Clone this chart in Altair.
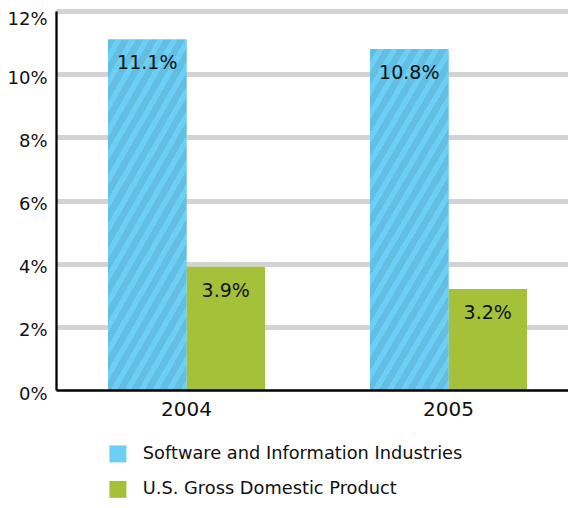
import altair as alt
import pandas as pd

# ---- data ----
years = ["2004", "2005"]
series_names = ["Software and Information Industries", "U.S. Gross Domestic Product"]
software_growth = [11.1, 10.8]
gdp_growth = [3.9, 3.2]
y_ticks = [0, 2, 4, 6, 8, 10, 12]

# ---- styles ----
BLUE = "#6BCFF6"
BLUE_DARK = "#63BEE2"
GREEN = "#A4C139"
GRID = "#D3D3D3"
INK = "#111111"
FONT = "DejaVu Sans"

rows = []
for i, yr in enumerate(years):
    rows.append({"year": yr, "series": series_names[0], "value": software_growth[i]})
    rows.append({"year": yr, "series": series_names[1], "value": gdp_growth[i]})
df = pd.DataFrame(rows)

# diagonal stripe fill for the software bars (hard-stop linear gradient)
n_periods = 20
dark_frac = 0.55
stops = []
for i in range(n_periods):
    a = round(i / n_periods, 5)
    b = round((i + dark_frac) / n_periods, 5)
    c = round((i + 1) / n_periods, 5)
    stops += [
        alt.GradientStop(offset=a, color=BLUE_DARK),
        alt.GradientStop(offset=b, color=BLUE_DARK),
        alt.GradientStop(offset=b, color=BLUE),
        alt.GradientStop(offset=c, color=BLUE),
    ]
stripes = alt.LinearGradient(gradient="linear", stops=stops, x1=0, y1=0, x2=0.4742, y2=1.2067)

x_enc = alt.X(
    "year:N", sort=years, title=None,
    scale=alt.Scale(paddingInner=0.40076, paddingOuter=0.17748, align=0.5591),
    axis=alt.Axis(labelAngle=0, labelFontSize=20, labelFont=FONT, labelColor=INK,
                  labelPadding=9, ticks=False, tickSize=0, domainColor="#000000",
                  domainWidth=2.3, grid=False, zindex=1),
)
xoff = alt.XOffset("series:N", sort=series_names,
                   scale=alt.Scale(paddingInner=0, paddingOuter=0))
y_enc = alt.Y(
    "value:Q", title=None,
    scale=alt.Scale(domain=[0, 12], nice=False, zero=True),
    axis=alt.Axis(values=y_ticks, labelExpr="datum.value + '%'", labelFontSize=18,
                  labelFont=FONT, labelColor=INK, labelPadding=9,
                  labelOffset={"condition": {"test": "datum.value === 12", "value": 8.5},
                               "value": 4},
                  ticks=False, tickSize=0, domainColor="#000000", domainWidth=2.3,
                  gridWidth=5,
                  gridColor={"condition": {"test": "datum.value === 0", "value": "transparent"},
                             "value": GRID}),
)

base = alt.Chart(df).mark_bar().encode(
    x=x_enc, xOffset=xoff, y=y_enc,
    color=alt.Color(
        "series:N", sort=series_names,
        scale=alt.Scale(domain=series_names, range=[BLUE, GREEN]),
        legend=alt.Legend(title=None, orient="none", legendX=53, legendY=434,
                          direction="vertical", symbolType="square", symbolSize=289,
                          symbolStrokeWidth=0, symbolOpacity=1, labelFontSize=17.8,
                          labelFont=FONT, labelColor=INK, labelOffset=16,
                          rowPadding=16.5, padding=0, labelLimit=0),
    ),
)

striped = alt.Chart(df).transform_filter(
    alt.datum.series == series_names[0]
).mark_bar(fill=stripes).encode(x=x_enc, xOffset=xoff, y=y_enc)

labels = alt.Chart(df).transform_calculate(
    label="format(datum.value, '.1f') + '%'"
).mark_text(dy=30, baseline="alphabetic", align="center", fontSize=19,
            font=FONT, color=INK).encode(x=x_enc, xOffset=xoff, y=y_enc, text="label:N")

chart = alt.layer(base, striped, labels).properties(
    width=512, height=379,
    padding={"left": 48, "top": 3, "right": 0, "bottom": 110},
    autosize=alt.AutoSizeParams(type="none"),
).configure_view(stroke=None).configure(font=FONT)

chart.save("out.html", embed_options={"renderer": "svg", "actions": False})
